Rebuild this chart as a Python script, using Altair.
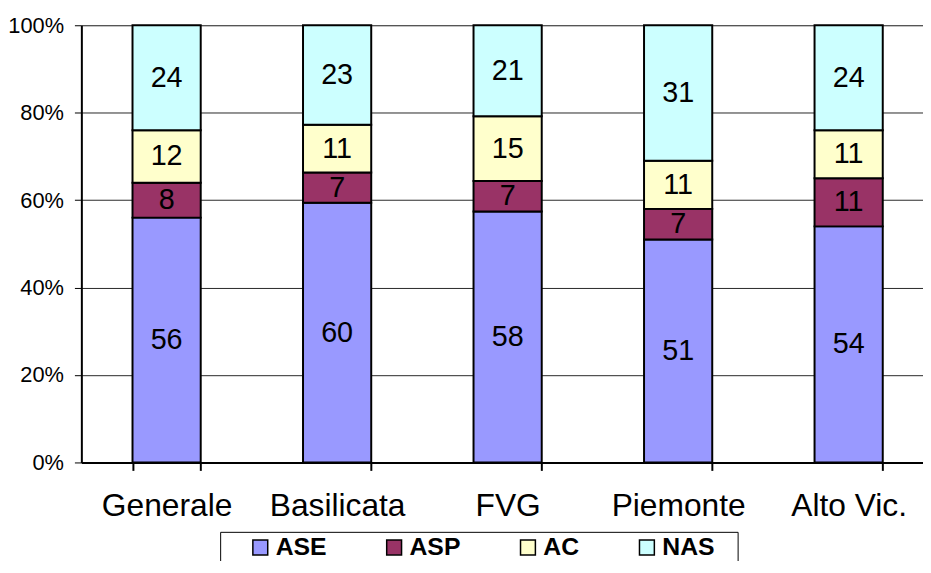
import altair as alt
import pandas as pd

categories = ["Generale", "Basilicata", "FVG", "Piemonte", "Alto Vic."]
series = ["ASE", "ASP", "AC", "NAS"]
ase = [56, 60, 58, 51, 54]
asp = [8, 7, 7, 7, 11]
ac = [12, 11, 15, 11, 11]
nas = [24, 23, 21, 31, 24]
colors = ["#9999FF", "#993366", "#FFFFCC", "#CCFFFF"]
y_ticks = [0, 0.2, 0.4, 0.6, 0.8, 1.0]

rows = []
for i, c in enumerate(categories):
    for j, (s, vals) in enumerate(zip(series, [ase, asp, ac, nas])):
        rows.append({"cat": c, "series": s, "ord": j, "value": vals[i]})
df = pd.DataFrame(rows)

FONT = "Liberation Sans"

x_scale = alt.Scale(paddingInner=0.6, paddingOuter=0.3, range=[0, 860])

x_enc = alt.X(
    "cat:N", sort=categories, title=None, scale=x_scale,
    axis=alt.Axis(labelAngle=0, labelFontSize=32, labelColor="black", tickBand="extent",
                  tickSize=8, tickColor="black", tickWidth=2, domainColor="black",
                  domainWidth=2, labelPadding=21, grid=False, labelFont=FONT),
)

base = alt.Chart(df)

bars = base.mark_bar(stroke="black", strokeWidth=2).encode(
    x=x_enc,
    y=alt.Y("value:Q", stack="normalize", title=None,
            scale=alt.Scale(domain=[0, 1]),
            axis=alt.Axis(format=".0%", values=y_ticks, labelFontSize=22, labelColor="black",
                          tickSize=7, tickColor="black", tickWidth=1, domainColor="black",
                          domainWidth=2, labelPadding=11, grid=True, gridColor="black",
                          gridWidth=1, gridOpacity=0.85, labelFont=FONT)),
    color=alt.Color("series:N", scale=alt.Scale(domain=series, range=colors),
                    legend=alt.Legend(orient="none", direction="horizontal", legendX=140,
                                      legendY=511, title="\u00a0", titleOrient="right",
                                      titlePadding=20, titleFontSize=25,
                                      symbolType="square", symbolSize=225,
                                      symbolStrokeColor="black", symbolStrokeWidth=1.5,
                                      symbolOpacity=1, symbolOffset=25,
                                      labelFontSize=25, labelFontWeight="bold",
                                      labelColor="black", labelOffset=3, labelFont=FONT,
                                      columnPadding=30, padding=3, strokeColor="black")),
    order=alt.Order("ord:Q"),
)

labels = base.transform_stack(
    stack="value", groupby=["cat"], as_=["v0", "v1"], offset="normalize",
    sort=[alt.SortField("ord", order="ascending")],
).transform_calculate(
    mid="(datum.v0 + datum.v1) / 2"
).mark_text(fontSize=29, font=FONT, color="black", baseline="middle").encode(
    x=alt.X("cat:N", sort=categories, scale=x_scale),
    y=alt.Y("mid:Q"),
    text=alt.Text("value:Q"),
)

chart = alt.layer(bars, labels).properties(
    width=849, height=441,
    padding={"left": 74, "top": 15, "right": 0, "bottom": 97},
    autosize=alt.AutoSizeParams(type="none"),
).configure_view(strokeWidth=0).configure_legend(strokeWidth=2).configure(font=FONT)

chart.save("out.html", embed_options={"renderer": "svg", "actions": False})
